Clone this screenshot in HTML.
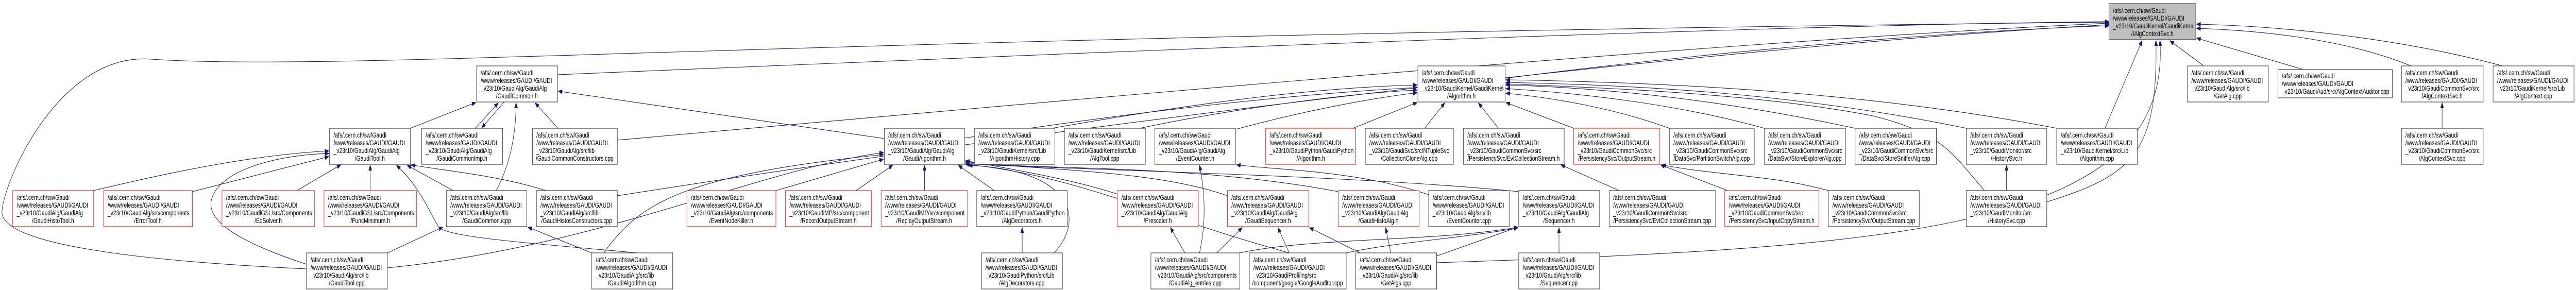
<!DOCTYPE html>
<html><head><meta charset="utf-8"><style>
html,body{margin:0;padding:0;background:#fff;width:100%;height:100%;overflow:hidden;}
svg{display:block;position:absolute;left:0;top:0;width:100vw;height:100vh;}
text{font-family:"Liberation Sans",Arial,sans-serif;font-size:13.4px;fill:#000;}
.b{fill:#fff;stroke:#404040;stroke-width:1.2;}
.r{fill:#fff;stroke:#ff2020;stroke-width:1.2;}
.g{fill:#bfbfbf;stroke:#404040;stroke-width:1.2;}
.e{fill:none;stroke:#191970;stroke-width:1.1;marker-end:url(#a);}
.m{text-anchor:middle;}
</style></head><body>
<svg viewBox="0 0 6464 563" preserveAspectRatio="none" xmlns="http://www.w3.org/2000/svg">
<defs><marker id="a" markerUnits="userSpaceOnUse" markerWidth="11" markerHeight="8" refX="10" refY="4" orient="auto"><path d="M0,0 L10,4 L0,8 z" fill="#191970" stroke="#191970"/></marker></defs>

<g>
<path class="e" d="M1399,145 C2500,110 4300,50 5292,42"/>
<path class="e" d="M1549,272 C2600,200 4300,80 5292,45"/>
<path class="e" d="M1549,380 C2700,240 4300,90 5292,48"/>
<path class="e" d="M769,522 C300,505 0,470 5,410 C10,350 150,100 380,115 C900,140 2000,70 5292,43"/>
<path class="e" d="M3777,152 C4300,100 4900,60 5292,50"/>
<path class="e" d="M5530,128 L5445,79"/>
<path class="e" d="M5780,135 L5512,74"/>
<path class="e" d="M6050,128 C5900,80 5700,60 5512,55"/>
<path class="e" d="M6280,128 C6000,70 5700,50 5512,47"/>
<path class="e" d="M5282,249 L5375,79"/>
<path class="e" d="M5136,392 C5350,340 5415,300 5410,79"/>
<path class="e" d="M3605,510 C4800,480 5450,440 5420,79"/>

<path class="e" d="M1030,249 L1194,199"/>
<path class="e" d="M1193,249 L1250,200"/>
<path class="e" d="M1265,198 L1209,248"/>
<path class="e" d="M1245,370 C1280,320 1295,260 1295,200"/>
<path class="e" d="M1400,249 L1343,200"/>
<path class="e" d="M2219,269 L1401,177"/>

<path class="e" d="M235,370 C450,330 650,300 825,293"/>
<path class="e" d="M483,372 L825,304"/>
<path class="e" d="M745,370 L855,320"/>
<path class="e" d="M929,370 L929,321"/>
<path class="e" d="M1137,370 L1022,321"/>
<path class="e" d="M1370,370 C1250,340 1100,330 1032,320"/>
<path class="e" d="M769,513 C600,470 520,430 530,390 C545,330 700,300 825,298"/>
<path class="e" d="M1600,491 C1300,470 1120,460 1100,440 C1070,400 1050,360 995,321"/>
<path class="e" d="M972,491 L1111,441"/>
<path class="e" d="M1485,491 L1325,441"/>

<path class="e" d="M972,520 C1500,480 1900,330 2217,296"/>
<path class="e" d="M1515,491 C1600,400 1700,340 2217,300"/>
<path class="e" d="M1947,370 L2217,309"/>
<path class="e" d="M2148,370 L2240,321"/>
<path class="e" d="M2320,370 L2320,321"/>
<path class="e" d="M2495,370 L2405,321"/>
<path class="e" d="M2645,491 C2720,430 2700,330 2430,321"/>
<path class="e" d="M2804,377 C2700,350 2550,330 2423,312"/>
<path class="e" d="M3080,380 C2900,330 2600,330 2423,314"/>
<path class="e" d="M3358,372 C3000,320 2650,330 2423,316"/>
<path class="e" d="M3811,372 C3400,340 2700,330 2423,318"/>
<path class="e" d="M3235,491 C2900,420 2700,340 2423,319"/>

<path class="e" d="M2421,268 C2900,210 3300,180 3556,170"/>
<path class="e" d="M2640,249 C3000,200 3300,170 3556,165"/>
<path class="e" d="M2860,249 C3100,210 3400,180 3556,175"/>
<path class="e" d="M3101,251 C3300,210 3450,190 3556,180"/>
<path class="e" d="M3395,249 L3556,199"/>
<path class="e" d="M3575,249 L3625,200"/>
<path class="e" d="M3760,249 L3710,200"/>
<path class="e" d="M3949,249 L3779,199"/>
<path class="e" d="M4189,249 C4050,210 3900,190 3779,181"/>
<path class="e" d="M4427,249 C4200,200 3950,180 3779,172"/>
<path class="e" d="M4655,249 C4300,190 4000,170 3779,165"/>
<path class="e" d="M4934,249 C4500,180 4100,165 3779,160"/>
<path class="e" d="M5161,249 C4700,180 4200,160 3779,155"/>
<path class="e" d="M4980,370 C4900,300 4880,260 4700,225 C4400,180 4000,170 3779,163"/>

<path class="e" d="M3010,491 C3030,420 3020,360 3010,321"/>
<path class="e" d="M3585,378 C3400,330 3200,330 3103,320"/>
<path class="e" d="M2973,491 L2937,442"/>
<path class="e" d="M3053,491 L3117,442"/>
<path class="e" d="M3413,491 L3286,442"/>
<path class="e" d="M3235,491 L3207,442"/>
<path class="e" d="M3490,491 L3477,442"/>
<path class="e" d="M3912,491 L3912,442"/>
<path class="e" d="M3605,497 L3809,441"/>
<path class="e" d="M3111,491 C3300,460 3600,470 3809,441"/>
<path class="e" d="M3378,491 C3500,470 3700,460 3809,442"/>
<path class="e" d="M2565,491 L2565,442"/>
<path class="e" d="M4063,370 L3917,320"/>
<path class="e" d="M4335,370 L4167,320"/>
<path class="e" d="M4588,370 C4450,340 4300,340 4170,320"/>
<path class="e" d="M5035,370 L5035,321"/>
<path class="e" d="M6128,249 L6128,200"/>
</g>

<rect class="g" x="5292" y="7" width="218" height="70"/>
<text x="5302" y="25">/afs/.cern.ch/sw/Gaudi</text><text x="5302" y="40">/www/releases/GAUDI/GAUDI</text><text x="5302" y="55">_v23r10/GaudiKernel/GaudiKernel</text><text class="m" x="5401" y="70">/IAlgContextSvc.h</text>

<rect class="b" x="1196" y="128" width="203" height="70"/>
<text x="1206" y="146">/afs/.cern.ch/sw/Gaudi</text><text x="1206" y="161">/www/releases/GAUDI/GAUDI</text><text x="1206" y="176">_v23r10/GaudiAlg/GaudiAlg</text><text class="m" x="1297" y="191">/GaudiCommon.h</text>

<rect class="b" x="3558" y="128" width="219" height="70"/>
<text x="3568" y="146">/afs/.cern.ch/sw/Gaudi</text><text x="3568" y="161">/www/releases/GAUDI/GAUDI</text><text x="3568" y="176">_v23r10/GaudiKernel/GaudiKernel</text><text class="m" x="3667" y="191">/Algorithm.h</text>

<rect class="b" x="5489" y="128" width="203" height="70"/>
<text x="5499" y="146">/afs/.cern.ch/sw/Gaudi</text><text x="5499" y="161">/www/releases/GAUDI/GAUDI</text><text x="5499" y="176">_v23r10/GaudiAlg/src/lib</text><text class="m" x="5590" y="191">/GetAlg.cpp</text>

<rect class="b" x="5716" y="135" width="287" height="55"/>
<text x="5726" y="152">/afs/.cern.ch/sw/Gaudi</text><text x="5726" y="167">/www/releases/GAUDI/GAUDI</text><text x="5726" y="182">_v23r10/GaudiAud/src/AlgContextAuditor.cpp</text>

<rect class="b" x="6026" y="128" width="205" height="70"/>
<text x="6036" y="146">/afs/.cern.ch/sw/Gaudi</text><text x="6036" y="161">/www/releases/GAUDI/GAUDI</text><text x="6036" y="176">_v23r10/GaudiCommonSvc/src</text><text class="m" x="6128" y="191">/AlgContextSvc.h</text>

<rect class="b" x="6256" y="128" width="203" height="70"/>
<text x="6266" y="146">/afs/.cern.ch/sw/Gaudi</text><text x="6266" y="161">/www/releases/GAUDI/GAUDI</text><text x="6266" y="176">_v23r10/GaudiKernel/src/Lib</text><text class="m" x="6357" y="191">/AlgContext.cpp</text>

<rect class="b" x="827" y="249" width="203" height="70"/>
<text x="837" y="267">/afs/.cern.ch/sw/Gaudi</text><text x="837" y="282">/www/releases/GAUDI/GAUDI</text><text x="837" y="297">_v23r10/GaudiAlg/GaudiAlg</text><text class="m" x="928" y="312">/GaudiTool.h</text>

<rect class="b" x="1058" y="249" width="203" height="70"/>
<text x="1068" y="267">/afs/.cern.ch/sw/Gaudi</text><text x="1068" y="282">/www/releases/GAUDI/GAUDI</text><text x="1068" y="297">_v23r10/GaudiAlg/GaudiAlg</text><text class="m" x="1159" y="312">/GaudiCommonImp.h</text>

<rect class="b" x="1336" y="249" width="213" height="70"/>
<text x="1346" y="267">/afs/.cern.ch/sw/Gaudi</text><text x="1346" y="282">/www/releases/GAUDI/GAUDI</text><text x="1346" y="297">_v23r10/GaudiAlg/src/lib</text><text class="m" x="1442" y="312">/GaudiCommonConstructors.cpp</text>

<rect class="b" x="2219" y="249" width="202" height="70"/>
<text x="2229" y="267">/afs/.cern.ch/sw/Gaudi</text><text x="2229" y="282">/www/releases/GAUDI/GAUDI</text><text x="2229" y="297">_v23r10/GaudiAlg/GaudiAlg</text><text class="m" x="2320" y="312">/GaudiAlgorithm.h</text>

<rect class="b" x="2445" y="249" width="202" height="70"/>
<text x="2455" y="267">/afs/.cern.ch/sw/Gaudi</text><text x="2455" y="282">/www/releases/GAUDI/GAUDI</text><text x="2455" y="297">_v23r10/GaudiKernel/src/Lib</text><text class="m" x="2546" y="312">/AlgorithmHistory.cpp</text>

<rect class="b" x="2671" y="249" width="203" height="70"/>
<text x="2681" y="267">/afs/.cern.ch/sw/Gaudi</text><text x="2681" y="282">/www/releases/GAUDI/GAUDI</text><text x="2681" y="297">_v23r10/GaudiKernel/src/Lib</text><text class="m" x="2772" y="312">/AlgTool.cpp</text>

<rect class="b" x="2898" y="249" width="203" height="70"/>
<text x="2908" y="267">/afs/.cern.ch/sw/Gaudi</text><text x="2908" y="282">/www/releases/GAUDI/GAUDI</text><text x="2908" y="297">_v23r10/GaudiAlg/GaudiAlg</text><text class="m" x="2999" y="312">/EventCounter.h</text>

<rect class="r" x="3176" y="249" width="226" height="70"/>
<text x="3186" y="267">/afs/.cern.ch/sw/Gaudi</text><text x="3186" y="282">/www/releases/GAUDI/GAUDI</text><text x="3186" y="297">_v23r10/GaudiPython/GaudiPython</text><text class="m" x="3289" y="312">/Algorithm.h</text>

<rect class="b" x="3426" y="249" width="221" height="70"/>
<text x="3436" y="267">/afs/.cern.ch/sw/Gaudi</text><text x="3436" y="282">/www/releases/GAUDI/GAUDI</text><text x="3436" y="297">_v23r10/GaudiSvc/src/NTupleSvc</text><text class="m" x="3536" y="312">/CollectionCloneAlg.cpp</text>

<rect class="b" x="3672" y="249" width="253" height="70"/>
<text x="3682" y="267">/afs/.cern.ch/sw/Gaudi</text><text x="3682" y="282">/www/releases/GAUDI/GAUDI</text><text x="3682" y="297">_v23r10/GaudiCommonSvc/src</text><text class="m" x="3798" y="312">/PersistencySvc/EvtCollectionStream.h</text>

<rect class="r" x="3949" y="249" width="216" height="70"/>
<text x="3959" y="267">/afs/.cern.ch/sw/Gaudi</text><text x="3959" y="282">/www/releases/GAUDI/GAUDI</text><text x="3959" y="297">_v23r10/GaudiCommonSvc/src</text><text class="m" x="4057" y="312">/PersistencySvc/OutputStream.h</text>

<rect class="b" x="4189" y="249" width="213" height="70"/>
<text x="4199" y="267">/afs/.cern.ch/sw/Gaudi</text><text x="4199" y="282">/www/releases/GAUDI/GAUDI</text><text x="4199" y="297">_v23r10/GaudiCommonSvc/src</text><text class="m" x="4295" y="312">/DataSvc/PartitionSwitchAlg.cpp</text>

<rect class="b" x="4427" y="249" width="204" height="70"/>
<text x="4437" y="267">/afs/.cern.ch/sw/Gaudi</text><text x="4437" y="282">/www/releases/GAUDI/GAUDI</text><text x="4437" y="297">_v23r10/GaudiCommonSvc/src</text><text class="m" x="4529" y="312">/DataSvc/StoreExplorerAlg.cpp</text>

<rect class="b" x="4655" y="249" width="204" height="70"/>
<text x="4665" y="267">/afs/.cern.ch/sw/Gaudi</text><text x="4665" y="282">/www/releases/GAUDI/GAUDI</text><text x="4665" y="297">_v23r10/GaudiCommonSvc/src</text><text class="m" x="4757" y="312">/DataSvc/StoreSnifferAlg.cpp</text>

<rect class="b" x="4934" y="249" width="202" height="70"/>
<text x="4944" y="267">/afs/.cern.ch/sw/Gaudi</text><text x="4944" y="282">/www/releases/GAUDI/GAUDI</text><text x="4944" y="297">_v23r10/GaudiMonitor/src</text><text class="m" x="5035" y="312">/HistorySvc.h</text>

<rect class="b" x="5161" y="249" width="202" height="70"/>
<text x="5171" y="267">/afs/.cern.ch/sw/Gaudi</text><text x="5171" y="282">/www/releases/GAUDI/GAUDI</text><text x="5171" y="297">_v23r10/GaudiKernel/src/Lib</text><text class="m" x="5262" y="312">/Algorithm.cpp</text>

<rect class="b" x="6026" y="249" width="205" height="70"/>
<text x="6036" y="267">/afs/.cern.ch/sw/Gaudi</text><text x="6036" y="282">/www/releases/GAUDI/GAUDI</text><text x="6036" y="297">_v23r10/GaudiCommonSvc/src</text><text class="m" x="6128" y="312">/AlgContextSvc.cpp</text>

<rect class="r" x="32" y="370" width="203" height="70"/>
<text x="42" y="388">/afs/.cern.ch/sw/Gaudi</text><text x="42" y="403">/www/releases/GAUDI/GAUDI</text><text x="42" y="418">_v23r10/GaudiAlg/GaudiAlg</text><text class="m" x="133" y="433">/GaudiHistoTool.h</text>

<rect class="r" x="260" y="370" width="223" height="70"/>
<text x="270" y="388">/afs/.cern.ch/sw/Gaudi</text><text x="270" y="403">/www/releases/GAUDI/GAUDI</text><text x="270" y="418">_v23r10/GaudiAlg/src/components</text><text class="m" x="371" y="433">/ErrorTool.h</text>

<rect class="r" x="557" y="370" width="232" height="70"/>
<text x="567" y="388">/afs/.cern.ch/sw/Gaudi</text><text x="567" y="403">/www/releases/GAUDI/GAUDI</text><text x="567" y="418">_v23r10/GaudiGSL/src/Components</text><text class="m" x="673" y="433">/EqSolver.h</text>

<rect class="r" x="813" y="370" width="232" height="70"/>
<text x="823" y="388">/afs/.cern.ch/sw/Gaudi</text><text x="823" y="403">/www/releases/GAUDI/GAUDI</text><text x="823" y="418">_v23r10/GaudiGSL/src/Components</text><text class="m" x="929" y="433">/FuncMinimum.h</text>

<rect class="b" x="1120" y="370" width="202" height="70"/>
<text x="1130" y="388">/afs/.cern.ch/sw/Gaudi</text><text x="1130" y="403">/www/releases/GAUDI/GAUDI</text><text x="1130" y="418">_v23r10/GaudiAlg/src/lib</text><text class="m" x="1221" y="433">/GaudiCommon.icpp</text>

<rect class="b" x="1346" y="370" width="203" height="70"/>
<text x="1356" y="388">/afs/.cern.ch/sw/Gaudi</text><text x="1356" y="403">/www/releases/GAUDI/GAUDI</text><text x="1356" y="418">_v23r10/GaudiAlg/src/lib</text><text class="m" x="1447" y="433">/GaudiHistosConstructors.cpp</text>

<rect class="r" x="1724" y="370" width="223" height="70"/>
<text x="1734" y="388">/afs/.cern.ch/sw/Gaudi</text><text x="1734" y="403">/www/releases/GAUDI/GAUDI</text><text x="1734" y="418">_v23r10/GaudiAlg/src/components</text><text class="m" x="1835" y="433">/EventNodeKiller.h</text>

<rect class="r" x="1971" y="370" width="216" height="70"/>
<text x="1981" y="388">/afs/.cern.ch/sw/Gaudi</text><text x="1981" y="403">/www/releases/GAUDI/GAUDI</text><text x="1981" y="418">_v23r10/GaudiMP/src/component</text><text class="m" x="2079" y="433">/RecordOutputStream.h</text>

<rect class="r" x="2211" y="370" width="217" height="70"/>
<text x="2221" y="388">/afs/.cern.ch/sw/Gaudi</text><text x="2221" y="403">/www/releases/GAUDI/GAUDI</text><text x="2221" y="418">_v23r10/GaudiMP/src/component</text><text class="m" x="2319" y="433">/ReplayOutputStream.h</text>

<rect class="b" x="2451" y="370" width="227" height="70"/>
<text x="2461" y="388">/afs/.cern.ch/sw/Gaudi</text><text x="2461" y="403">/www/releases/GAUDI/GAUDI</text><text x="2461" y="418">_v23r10/GaudiPython/GaudiPython</text><text class="m" x="2564" y="433">/AlgDecorators.h</text>

<rect class="r" x="2804" y="370" width="203" height="70"/>
<text x="2814" y="388">/afs/.cern.ch/sw/Gaudi</text><text x="2814" y="403">/www/releases/GAUDI/GAUDI</text><text x="2814" y="418">_v23r10/GaudiAlg/GaudiAlg</text><text class="m" x="2905" y="433">/Prescaler.h</text>

<rect class="r" x="3080" y="370" width="204" height="70"/>
<text x="3090" y="388">/afs/.cern.ch/sw/Gaudi</text><text x="3090" y="403">/www/releases/GAUDI/GAUDI</text><text x="3090" y="418">_v23r10/GaudiAlg/GaudiAlg</text><text class="m" x="3182" y="433">/GaudiSequencer.h</text>

<rect class="r" x="3358" y="370" width="203" height="70"/>
<text x="3368" y="388">/afs/.cern.ch/sw/Gaudi</text><text x="3368" y="403">/www/releases/GAUDI/GAUDI</text><text x="3368" y="418">_v23r10/GaudiAlg/GaudiAlg</text><text class="m" x="3459" y="433">/GaudiHistoAlg.h</text>

<rect class="b" x="3585" y="370" width="202" height="70"/>
<text x="3595" y="388">/afs/.cern.ch/sw/Gaudi</text><text x="3595" y="403">/www/releases/GAUDI/GAUDI</text><text x="3595" y="418">_v23r10/GaudiAlg/src/lib</text><text class="m" x="3686" y="433">/EventCounter.cpp</text>

<rect class="b" x="3811" y="370" width="203" height="70"/>
<text x="3821" y="388">/afs/.cern.ch/sw/Gaudi</text><text x="3821" y="403">/www/releases/GAUDI/GAUDI</text><text x="3821" y="418">_v23r10/GaudiAlg/GaudiAlg</text><text class="m" x="3912" y="433">/Sequencer.h</text>

<rect class="b" x="4038" y="370" width="267" height="70"/>
<text x="4048" y="388">/afs/.cern.ch/sw/Gaudi</text><text x="4048" y="403">/www/releases/GAUDI/GAUDI</text><text x="4048" y="418">_v23r10/GaudiCommonSvc/src</text><text class="m" x="4171" y="433">/PersistencySvc/EvtCollectionStream.cpp</text>

<rect class="r" x="4328" y="370" width="236" height="70"/>
<text x="4338" y="388">/afs/.cern.ch/sw/Gaudi</text><text x="4338" y="403">/www/releases/GAUDI/GAUDI</text><text x="4338" y="418">_v23r10/GaudiCommonSvc/src</text><text class="m" x="4446" y="433">/PersistencySvc/InputCopyStream.h</text>

<rect class="b" x="4588" y="370" width="228" height="70"/>
<text x="4598" y="388">/afs/.cern.ch/sw/Gaudi</text><text x="4598" y="403">/www/releases/GAUDI/GAUDI</text><text x="4598" y="418">_v23r10/GaudiCommonSvc/src</text><text class="m" x="4702" y="433">/PersistencySvc/OutputStream.cpp</text>

<rect class="b" x="4934" y="370" width="202" height="70"/>
<text x="4944" y="388">/afs/.cern.ch/sw/Gaudi</text><text x="4944" y="403">/www/releases/GAUDI/GAUDI</text><text x="4944" y="418">_v23r10/GaudiMonitor/src</text><text class="m" x="5035" y="433">/HistorySvc.cpp</text>

<rect class="b" x="769" y="491" width="203" height="70"/>
<text x="779" y="509">/afs/.cern.ch/sw/Gaudi</text><text x="779" y="524">/www/releases/GAUDI/GAUDI</text><text x="779" y="539">_v23r10/GaudiAlg/src/lib</text><text class="m" x="870" y="554">/GaudiTool.cpp</text>

<rect class="b" x="1485" y="491" width="203" height="70"/>
<text x="1495" y="509">/afs/.cern.ch/sw/Gaudi</text><text x="1495" y="524">/www/releases/GAUDI/GAUDI</text><text x="1495" y="539">_v23r10/GaudiAlg/src/lib</text><text class="m" x="1586" y="554">/GaudiAlgorithm.cpp</text>

<rect class="b" x="2463" y="491" width="203" height="70"/>
<text x="2473" y="509">/afs/.cern.ch/sw/Gaudi</text><text x="2473" y="524">/www/releases/GAUDI/GAUDI</text><text x="2473" y="539">_v23r10/GaudiPython/src/Lib</text><text class="m" x="2564" y="554">/AlgDecorators.cpp</text>

<rect class="b" x="2888" y="491" width="223" height="70"/>
<text x="2898" y="509">/afs/.cern.ch/sw/Gaudi</text><text x="2898" y="524">/www/releases/GAUDI/GAUDI</text><text x="2898" y="539">_v23r10/GaudiAlg/src/components</text><text class="m" x="2999" y="554">/GaudiAlg_entries.cpp</text>

<rect class="b" x="3135" y="491" width="243" height="70"/>
<text x="3145" y="509">/afs/.cern.ch/sw/Gaudi</text><text x="3145" y="524">/www/releases/GAUDI/GAUDI</text><text x="3145" y="539">_v23r10/GaudiProfiling/src</text><text class="m" x="3256" y="554">/component/google/GoogleAuditor.cpp</text>

<rect class="b" x="3402" y="491" width="203" height="70"/>
<text x="3412" y="509">/afs/.cern.ch/sw/Gaudi</text><text x="3412" y="524">/www/releases/GAUDI/GAUDI</text><text x="3412" y="539">_v23r10/GaudiAlg/src/lib</text><text class="m" x="3503" y="554">/GetAlgs.cpp</text>

<rect class="b" x="3811" y="491" width="203" height="70"/>
<text x="3821" y="509">/afs/.cern.ch/sw/Gaudi</text><text x="3821" y="524">/www/releases/GAUDI/GAUDI</text><text x="3821" y="539">_v23r10/GaudiAlg/src/lib</text><text class="m" x="3912" y="554">/Sequencer.cpp</text>
</svg>
</body></html>
